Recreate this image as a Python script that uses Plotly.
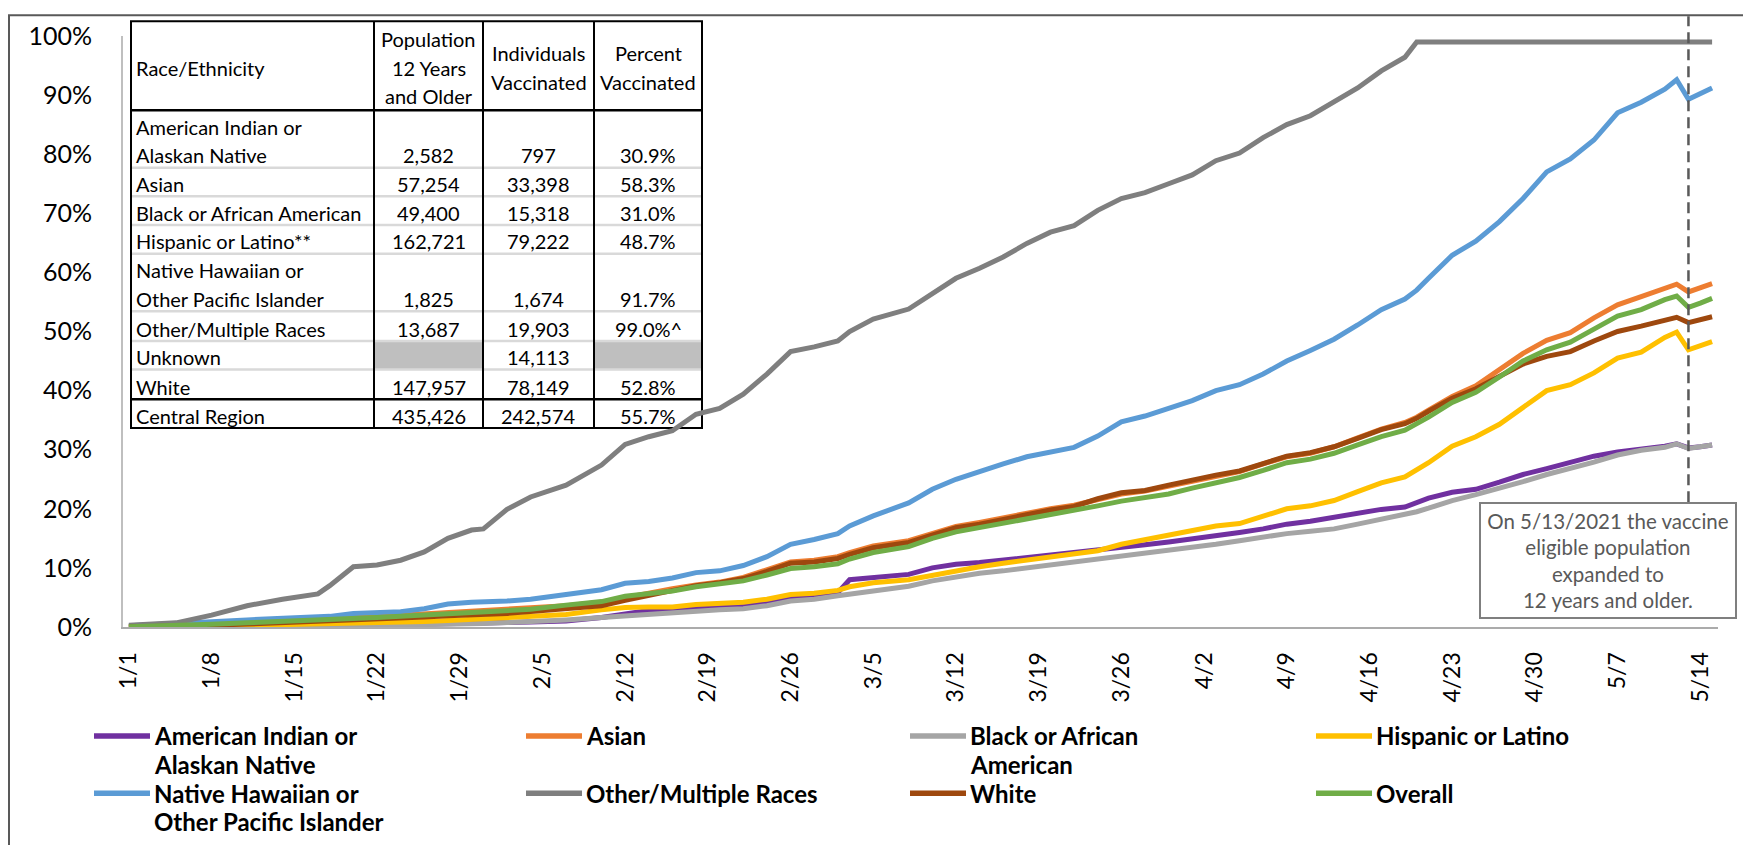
import plotly.graph_objects as go

# ---------------- data ----------------
dates = [
    "2021-01-01", "2021-01-05", "2021-01-08", "2021-01-11", "2021-01-14", "2021-01-17", "2021-01-18",
    "2021-01-20", "2021-01-22", "2021-01-24", "2021-01-26", "2021-01-28", "2021-01-30", "2021-01-31",
    "2021-02-02", "2021-02-04", "2021-02-07", "2021-02-10", "2021-02-12", "2021-02-14", "2021-02-16",
    "2021-02-18", "2021-02-20", "2021-02-22", "2021-02-24", "2021-02-26", "2021-02-28", "2021-03-02",
    "2021-03-03", "2021-03-05", "2021-03-08", "2021-03-10", "2021-03-12", "2021-03-14", "2021-03-16",
    "2021-03-18", "2021-03-20", "2021-03-22", "2021-03-24", "2021-03-26", "2021-03-28", "2021-03-30",
    "2021-04-01", "2021-04-03", "2021-04-05", "2021-04-07", "2021-04-09", "2021-04-11", "2021-04-13",
    "2021-04-15", "2021-04-17", "2021-04-19", "2021-04-20", "2021-04-21", "2021-04-23", "2021-04-25",
    "2021-04-27", "2021-04-29", "2021-05-01", "2021-05-03", "2021-05-05", "2021-05-07", "2021-05-09",
    "2021-05-11", "2021-05-12", "2021-05-13", "2021-05-14", "2021-05-15",
]

american_indian = [
    0.0, 0.0, 0.05, 0.1, 0.15, 0.2, 0.2, 0.25, 0.3, 0.35, 0.4, 0.5, 0.6, 0.65,
    0.75, 0.85, 1.0, 1.6, 2.3, 2.8, 3.1, 3.3, 3.5, 3.7, 4.3, 5.0, 5.2, 5.8,
    8.0, 8.4, 8.9, 10.0, 10.6, 10.9, 11.3, 11.7, 12.1, 12.5, 12.9, 13.4, 13.9, 14.4,
    14.9, 15.3, 16.0, 16.6, 17.4, 17.9, 18.6, 19.3, 19.9, 20.3, 21.0, 21.8, 22.8, 23.3,
    24.5, 25.8, 26.8, 27.8, 28.9, 29.6, 30.0, 30.6, 31.0, 30.3, 30.5, 30.8,
]
asian = [
    0.1, 0.3, 0.6, 0.9, 1.1, 1.4, 1.5, 1.7, 1.8, 2.0, 2.2, 2.5, 2.7, 2.8,
    3.0, 3.2, 3.6, 4.2, 5.0, 5.7, 6.5, 7.1, 7.6, 8.4, 9.6, 11.0, 11.3, 11.9,
    12.6, 13.7, 14.6, 15.9, 17.0, 17.7, 18.5, 19.4, 20.0, 20.6, 21.6, 22.5, 23.0, 23.8,
    24.7, 25.5, 26.3, 27.6, 28.8, 29.4, 30.5, 32.0, 33.5, 34.6, 35.5, 36.7, 39.0, 40.8,
    43.5, 46.3, 48.5, 49.8, 52.3, 54.5, 55.9, 57.4, 58.0, 56.7, 57.3, 58.1,
]
black = [
    0.0, 0.0, 0.05, 0.1, 0.1, 0.15, 0.2, 0.2, 0.25, 0.3, 0.35, 0.45, 0.55, 0.6,
    0.75, 0.9, 1.2, 1.6, 1.9, 2.2, 2.4, 2.6, 2.9, 3.1, 3.6, 4.4, 4.7, 5.3,
    5.6, 6.1, 6.9, 7.8, 8.5, 9.1, 9.5, 10.0, 10.5, 10.9, 11.3, 12.0, 12.5, 12.9,
    13.5, 14.0, 14.6, 15.3, 15.8, 16.2, 16.6, 17.4, 18.2, 19.0, 19.5, 20.1, 21.4, 22.4,
    23.4, 24.6, 25.8, 26.8, 27.9, 29.1, 29.9, 30.4, 31.0, 30.2, 30.5, 30.8,
]
hispanic = [
    0.0, 0.05, 0.1, 0.3, 0.4, 0.5, 0.55, 0.65, 0.75, 0.85, 0.95, 1.1, 1.3, 1.4,
    1.6, 1.8, 2.1, 2.9, 3.3, 3.4, 3.4, 3.8, 4.0, 4.2, 4.7, 5.5, 5.7, 6.2,
    6.8, 7.5, 8.0, 8.8, 9.6, 10.2, 10.8, 11.3, 11.8, 12.3, 12.9, 14.0, 14.8, 15.5,
    16.3, 17.1, 17.5, 18.8, 20.0, 20.5, 21.4, 22.9, 24.4, 25.4, 26.5, 27.8, 30.6, 32.2,
    34.3, 37.2, 40.0, 41.0, 43.0, 45.5, 46.5, 49.0, 49.9, 46.9, 47.5, 48.3,
]
native_hawaiian = [
    0.2, 0.5, 0.9, 1.2, 1.5, 1.7, 1.8, 2.3, 2.4, 2.6, 3.1, 3.9, 4.2, 4.2,
    4.4, 4.7, 5.5, 6.3, 7.4, 7.7, 8.3, 9.2, 9.5, 10.4, 11.9, 14.0, 14.8, 15.8,
    17.1, 18.8, 21.0, 23.3, 25.0, 26.4, 27.6, 28.8, 29.6, 30.4, 32.3, 34.7, 35.7, 36.9,
    38.3, 40.0, 41.0, 42.8, 45.0, 46.8, 48.7, 51.1, 53.7, 55.5, 57.0, 59.0, 62.9, 65.3,
    68.6, 72.5, 77.0, 79.2, 82.4, 87.0, 88.8, 91.0, 92.6, 89.3, 90.2, 91.2,
]
other_multiple = [
    0.3, 0.7, 2.0, 3.6, 4.7, 5.6, 7.0, 10.2, 10.5, 11.3, 12.7, 15.0, 16.4, 16.6,
    19.9, 22.0, 24.0, 27.4, 30.9, 32.2, 33.2, 36.0, 37.0, 39.4, 42.8, 46.6, 47.4, 48.4,
    50.0, 52.1, 53.8, 56.3, 59.0, 60.7, 62.6, 64.9, 66.8, 67.9, 70.5, 72.5, 73.5, 75.0,
    76.5, 78.9, 80.2, 82.8, 85.0, 86.5, 88.8, 91.2, 94.1, 96.4, 99.0, 99.0, 99.0, 99.0,
    99.0, 99.0, 99.0, 99.0, 99.0, 99.0, 99.0, 99.0, 99.0, 99.0, 99.0, 99.0,
]
white = [
    0.0, 0.1, 0.3, 0.5, 0.7, 0.9, 1.0, 1.2, 1.3, 1.5, 1.7, 1.9, 2.0, 2.1,
    2.3, 2.6, 3.0, 3.6, 4.5, 5.4, 6.3, 7.0, 7.5, 8.2, 9.4, 10.8, 11.0, 11.6,
    12.3, 13.4, 14.3, 15.6, 16.8, 17.4, 18.2, 19.1, 19.8, 20.4, 21.7, 22.7, 23.1, 24.0,
    24.9, 25.7, 26.4, 27.7, 28.9, 29.5, 30.5, 31.9, 33.4, 34.4, 35.3, 36.5, 38.7, 40.3,
    42.5, 44.5, 45.8, 46.6, 48.4, 50.0, 50.9, 52.0, 52.4, 51.5, 52.0, 52.5,
]
overall = [
    0.05, 0.2, 0.45, 0.7, 0.9, 1.2, 1.3, 1.5, 1.6, 1.8, 2.0, 2.3, 2.5, 2.6,
    2.8, 3.0, 3.7, 4.3, 5.2, 5.6, 6.1, 6.8, 7.2, 7.8, 8.8, 9.9, 10.2, 10.7,
    11.5, 12.6, 13.6, 15.0, 16.1, 16.8, 17.5, 18.4, 19.0, 19.6, 20.5, 21.3, 21.8, 22.5,
    23.5, 24.4, 25.3, 26.5, 27.8, 28.4, 29.4, 30.8, 32.2, 33.3, 34.3, 35.5, 38.0, 39.7,
    42.3, 45.0, 46.9, 48.2, 50.4, 52.6, 53.7, 55.4, 56.0, 54.1, 54.8, 55.6,
]

series_names = [
    "American Indian or\nAlaskan Native", "Asian", "Black or African\nAmerican", "Hispanic or Latino",
    "Native Hawaiian or\nOther Pacific Islander", "Other/Multiple Races", "White", "Overall",
]
series_values = [american_indian, asian, black, hispanic, native_hawaiian, other_multiple, white, overall]
series_colors = ["#7030A0", "#ED7D31", "#A5A5A5", "#FFC000", "#5B9BD5", "#7F7F7F", "#9E480E", "#70AD47"]

tick_dates = [
    "2021-01-01", "2021-01-08", "2021-01-15", "2021-01-22", "2021-01-29", "2021-02-05", "2021-02-12",
    "2021-02-19", "2021-02-26", "2021-03-05", "2021-03-12", "2021-03-19", "2021-03-26", "2021-04-02",
    "2021-04-09", "2021-04-16", "2021-04-23", "2021-04-30", "2021-05-07", "2021-05-14",
]
tick_labels = [
    "1/1", "1/8", "1/15", "1/22", "1/29", "2/5", "2/12", "2/19", "2/26", "3/5", "3/12", "3/19",
    "3/26", "4/2", "4/9", "4/16", "4/23", "4/30", "5/7", "5/14",
]
y_tick_values = [0, 10, 20, 30, 40, 50, 60, 70, 80, 90, 100]
y_tick_labels = ["0%", "10%", "20%", "30%", "40%", "50%", "60%", "70%", "80%", "90%", "100%"]

table_headers = ["Race/Ethnicity", "Population\n12 Years\nand Older", "Individuals\nVaccinated", "Percent\nVaccinated"]
table_races = [
    "American Indian or\nAlaskan Native", "Asian", "Black or African American", "Hispanic or Latino**",
    "Native Hawaiian or\nOther Pacific Islander", "Other/Multiple Races", "Unknown", "White", "Central Region",
]
table_population = ["2,582", "57,254", "49,400", "162,721", "1,825", "13,687", "", "147,957", "435,426"]
table_vaccinated = ["797", "33,398", "15,318", "79,222", "1,674", "19,903", "14,113", "78,149", "242,574"]
table_percent = ["30.9%", "58.3%", "31.0%", "48.7%", "91.7%", "99.0%^", "", "52.8%", "55.7%"]

note_date = "2021-05-13"
note_text = ["On 5/13/2021 the vaccine", "eligible population", "expanded to", "12 years and older."]

# ---------------- layout geometry (figure pixels; page adds an 8px body margin) ----------------
W, H = 1743, 837
PL, PR, PT, PB = 115, 1710, 22, 619
FONT = "Lato, 'Open Sans', sans-serif"


def px(x):
    return (x - PL) / (PR - PL)


def py(y):
    return (PB - y) / (PB - PT)


fig = go.Figure()
for name, vals, color in zip(series_names, series_values, series_colors):
    fig.add_trace(go.Scatter(
        x=dates, y=vals, mode="lines", name=name.replace("\n", " "),
        line=dict(color=color, width=5), showlegend=False,
    ))

shapes = []
annotations = []

# outer chart border
shapes.append(dict(type="rect", xref="paper", yref="paper", x0=px(1), x1=px(1739), y0=py(900), y1=py(1),
                   line=dict(color="#595959", width=2), fillcolor="rgba(0,0,0,0)", layer="above"))

# dashed vertical line at 5/13
shapes.append(dict(type="line", xref="x", yref="paper", x0=note_date, x1=note_date, y0=py(493), y1=py(2),
                   line=dict(color="#595959", width=2.5, dash="11px,6px"), layer="above"))

# note box
annotations.append(dict(
    xref="paper", yref="paper", x=px(1600), y=py(551.5), xanchor="center", yanchor="middle",
    text="<br>".join(note_text), showarrow=False, align="center",
    font=dict(family=FONT, size=20.5, color="#595959"),
    bordercolor="#7F7F7F", borderwidth=2, borderpad=0, bgcolor="white", width=254, height=113,
))

# ---------------- table ----------------
col_x = [123, 366, 475, 586, 694]
head_top, head_bot = 7, 97
row_bot = [155, 184, 213, 242, 300, 330, 359, 389, 418]
row_top = [head_bot] + row_bot[:-1]

unk = table_races.index("Unknown")
for c in (1, 3):
    shapes.append(dict(type="rect", xref="paper", yref="paper", x0=px(col_x[c]), x1=px(col_x[c + 1]),
                       y0=py(row_bot[unk]), y1=py(row_top[unk]), fillcolor="#BFBFBF", line=dict(width=0),
                       layer="below"))
for yb in row_bot[:-2]:
    shapes.append(dict(type="line", xref="paper", yref="paper", x0=px(col_x[0]), x1=px(col_x[-1]),
                       y0=py(yb), y1=py(yb), line=dict(color="#D9D9D9", width=2.5), layer="below"))
for yb, wd in ((head_bot, 2.5), (row_bot[-2], 2.5)):
    shapes.append(dict(type="line", xref="paper", yref="paper", x0=px(col_x[0]), x1=px(col_x[-1]),
                       y0=py(yb), y1=py(yb), line=dict(color="black", width=wd), layer="below"))
for cx in col_x[1:-1]:
    shapes.append(dict(type="line", xref="paper", yref="paper", x0=px(cx), x1=px(cx),
                       y0=py(row_bot[-1]), y1=py(head_top), line=dict(color="black", width=2), layer="below"))
shapes.append(dict(type="rect", xref="paper", yref="paper", x0=px(col_x[0]), x1=px(col_x[-1]),
                   y0=py(row_bot[-1]), y1=py(head_top), line=dict(color="black", width=2),
                   fillcolor="rgba(0,0,0,0)", layer="below"))

TFS = 20
LS = 29


def cell_text(txt, col, yc_lines):
    if not txt:
        return
    if col == 0:
        xx, anchor = col_x[0] + 3, "left"
    else:
        xx, anchor = (col_x[col] + col_x[col + 1]) / 2, "center"
    for line, yy in zip(txt.split("\n"), yc_lines):
        annotations.append(dict(xref="paper", yref="paper", x=px(xx), y=py(yy), xanchor=anchor,
                                yanchor="middle", text=line, showarrow=False,
                                font=dict(family=FONT, size=TFS, color="black")))


for c, h in enumerate(table_headers):
    n = len(h.split("\n"))
    mid = 54
    ys = [mid + (k - (n - 1) / 2) * LS for k in range(n)]
    cell_text(h, c, ys)

for r in range(len(table_races)):
    last = row_bot[r] - 12.5
    n = len(table_races[r].split("\n"))
    ys = [last - (n - 1 - k) * LS for k in range(n)]
    cell_text(table_races[r], 0, ys)
    cell_text(table_population[r], 1, [last])
    cell_text(table_vaccinated[r], 2, [last])
    cell_text(table_percent[r], 3, [last])

# ---------------- legend (manual) ----------------
legend_col_x = [86, 518, 902, 1308]
legend_row_y = [729, 787]
for i, (name, color) in enumerate(zip(series_names, series_colors)):
    x0 = legend_col_x[i % 4]
    y0 = legend_row_y[i // 4]
    shapes.append(dict(type="line", xref="paper", yref="paper", x0=px(x0), x1=px(x0 + 56),
                       y0=py(y0), y1=py(y0), line=dict(color=color, width=5.5), layer="above"))
    for k, line in enumerate(name.split("\n")):
        annotations.append(dict(xref="paper", yref="paper", x=px(x0 + 58), y=py(y0 + 28.5 * k),
                                xanchor="left", yanchor="middle", text="<b>" + line + "</b>",
                                showarrow=False, font=dict(family=FONT, size=24, color="black")))

fig.update_layout(
    width=W, height=H,
    margin=dict(l=PL, r=W - PR, t=PT, b=H - PB),
    paper_bgcolor="white", plot_bgcolor="rgba(0,0,0,0)",
    font=dict(family=FONT, color="black"),
    showlegend=False,
    shapes=shapes, annotations=annotations,
)
fig.update_xaxes(
    type="date", range=["2020-12-31 12:00", "2021-05-15 12:00"],
    tickmode="array", tickvals=tick_dates, ticktext=tick_labels, tickangle=-90,
    tickfont=dict(family=FONT, size=23, color="black"),
    showline=True, linecolor="#ABABAB", linewidth=2, showgrid=False, zeroline=False,
    ticks="", ticklabelstandoff=14,
)
fig.update_yaxes(
    range=[0, 100], tickmode="array", tickvals=y_tick_values, ticktext=y_tick_labels,
    tickfont=dict(family=FONT, size=25, color="black"),
    showline=True, linecolor="#BFBFBF", linewidth=2, showgrid=False, zeroline=False,
    ticks="", ticklabelstandoff=24,
)

fig.write_html("out.html")
